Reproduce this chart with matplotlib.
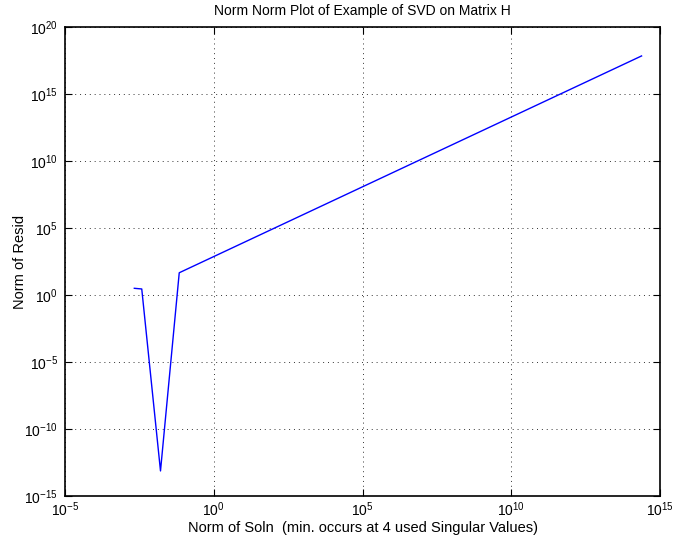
import matplotlib
matplotlib.use("Agg")
import matplotlib.pyplot as plt
import numpy as np
from matplotlib.ticker import FixedLocator, FuncFormatter, NullLocator

plt.rcParams['font.family'] = ['Liberation Sans', 'DejaVu Sans']
plt.rcParams['mathtext.fontset'] = 'custom'
plt.rcParams['mathtext.rm'] = 'Liberation Sans'
plt.rcParams['mathtext.it'] = 'Liberation Sans'
plt.rcParams['mathtext.default'] = 'regular'

# Data (log10 values)
soln_norm = [10**-2.67, 10**-2.42, 10**-1.79, 10**-1.16, 10**14.38]
resid_norm = [10**0.50, 10**0.45, 10**-13.13, 10**1.66, 10**17.84]

xticks = [1e-5, 1e0, 1e5, 1e10, 1e15]
yticks = [1e-15, 1e-10, 1e-5, 1e0, 1e5, 1e10, 1e15, 1e20]

fig = plt.figure(figsize=(6.74, 5.42), dpi=100)
ax = fig.add_axes([65/674, 1-496/542, 595/674, 469/542])
ax.loglog(soln_norm, resid_norm, color='#0000ff', linewidth=1.0)
ax.set_xlim(1e-5, 1e15)
ax.set_ylim(1e-15, 1e20)

fmt = FuncFormatter(lambda v, p: r'$10^{%d}$' % int(round(np.log10(v))))
ax.xaxis.set_major_locator(FixedLocator(xticks))
ax.yaxis.set_major_locator(FixedLocator(yticks))
ax.xaxis.set_minor_locator(NullLocator())
ax.yaxis.set_minor_locator(NullLocator())
ax.xaxis.set_major_formatter(fmt)
ax.yaxis.set_major_formatter(fmt)
ax.tick_params(which='both', direction='in', top=True, right=True, length=5, width=0.8, labelsize=10, colors='black')
ax.tick_params(axis='x', pad=3)
ax.tick_params(axis='y', pad=5)
ax.grid(True, which='major', linestyle=(0, (1, 4)), color='black', linewidth=0.7, alpha=0.8)
for s in ax.spines.values():
    s.set_linewidth(1.2)

ax.set_title('Norm Norm Plot of Example of SVD on Matrix H', fontsize=10, pad=9)
ax.set_xlabel('Norm of Soln  (min. occurs at 4 used Singular Values)', fontsize=10.5)
ax.set_ylabel('Norm of Resid', fontsize=10.5)
ax.xaxis.set_label_coords(0.5, (496 - 528) / 469, transform=ax.transAxes)
ax.yaxis.set_label_coords((20 - 65) / 595, 0.5, transform=ax.transAxes)
ax.xaxis.label.set_va('center')
ax.yaxis.label.set_va('center')

fig.savefig('out.png', dpi=100)
